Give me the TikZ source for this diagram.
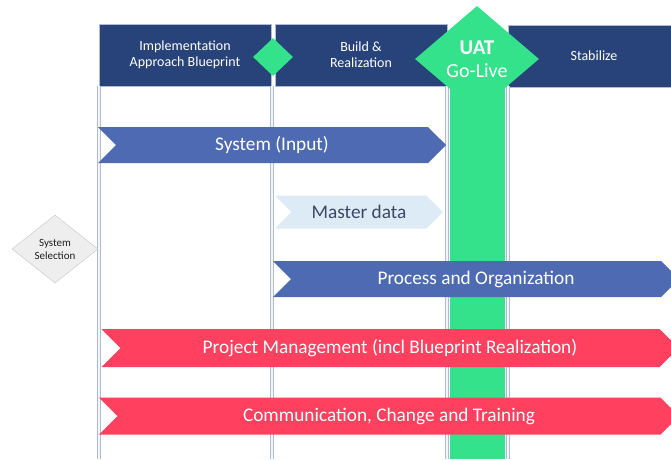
\documentclass[tikz,border=0pt]{standalone}
\usepackage{fontspec}
\setmainfont{Carlito}
\usepackage{xcolor}
\usetikzlibrary{shapes.geometric,shapes.symbols,positioning}

\definecolor{navy}{RGB}{40,66,122}
\definecolor{golive}{RGB}{52,226,140}
\definecolor{sysblue}{RGB}{78,106,178}
\definecolor{paleblue}{RGB}{221,235,247}
\definecolor{pmred}{RGB}{255,64,94}
\definecolor{laneline}{RGB}{176,188,212}

\begin{document}
\begin{tikzpicture}[x=1pt,y=-1pt,
  phase/.style={draw=laneline,fill=navy,text=white,align=center,inner sep=0pt,
    minimum width=172pt,minimum height=62pt,font=\fontsize{14}{16}\selectfont},
  gate/.style={diamond,fill=golive,inner sep=0pt,text=white},
  bar/.style={signal,signal from=west,signal to=east,signal pointer angle=90,
    inner sep=0pt,minimum height=36pt,text=white,font=\fontsize{19.3}{22}\selectfont}]
  \useasboundingbox[fill=white] (0,0) rectangle (671,459);

  % phase header
  \node[phase] (impl) at (185,55) {Implementation\\Approach Blueprint};
  \node[phase] (build) at (361,55) {Build \&\\Realization};
  \node[phase] (stab) at (594,56) {Stabilize};

  % swim lanes and go-live column
  \fill[golive] (450,86) rectangle (505,459);
  \foreach \x in {99,272,447,508} {
    \draw[laneline,line width=3.5pt] (\x,86) -- (\x,459);
    \draw[white!85!laneline,line width=1.2pt] (\x,86) -- (\x,459);
  }

  \node[gate,minimum width=40pt,minimum height=38pt] (bp) at (273,57) {};
  \node[gate,minimum width=124pt,minimum height=106pt,align=center,
    font=\fontsize{20}{23}\selectfont] (uat) at (477,59)
    {{\fontsize{21}{23}\selectfont\bfseries UAT}\\Go-Live};
  \node[diamond,draw=gray!45,fill=gray!13,text=gray!25!black,inner sep=0pt,align=center,
    minimum width=86pt,minimum height=68pt,font=\fontsize{11}{13}\selectfont] (sel) at (55,249)
    {System\\Selection};

  % workstreams
  \node[bar,fill=sysblue,minimum width=348pt] (sys) at (272,145) {System (Input)};
  \node[bar,fill=paleblue,text={rgb,255:red,60;green,72;blue,100},minimum width=168pt,
    minimum height=33pt] (md) at (359,212) {Master data};
  \node[bar,fill=sysblue,minimum width=406pt] (proc) at (476,279) {Process and Organization};
  \node[bar,fill=pmred,minimum width=577pt,minimum height=38pt] (pm) at (390,348)
    {Project Management (incl Blueprint Realization)};
  \node[bar,fill=pmred,minimum width=580pt,minimum height=37pt] (comm) at (389,416)
    {Communication, Change and Training};
\end{tikzpicture}
\end{document}
